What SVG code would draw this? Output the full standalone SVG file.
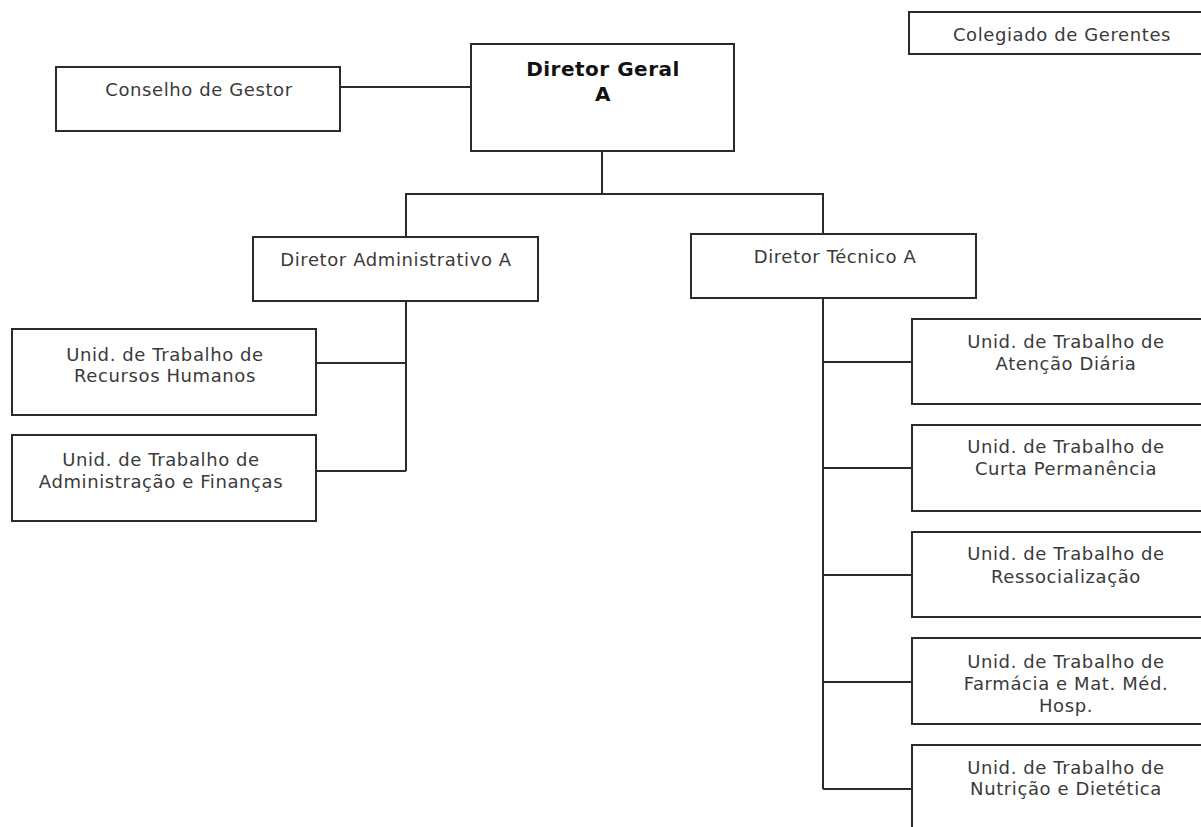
<svg xmlns="http://www.w3.org/2000/svg" width="1201" height="827" viewBox="0 0 1201 827">
  <style>
    .box { fill: #ffffff; stroke: #2b2b2b; stroke-width: 2; }
    .link { fill: none; stroke: #2b2b2b; stroke-width: 2; }
    .lbl { font-family: "DejaVu Sans", Verdana, sans-serif; font-size: 18px; letter-spacing: 0.6px; fill: #3a3a3a; text-anchor: middle; }
    .head { font-family: "DejaVu Sans", Verdana, sans-serif; font-size: 20px; font-weight: bold; letter-spacing: 0.5px; fill: #111111; text-anchor: middle; }
  </style>
  <rect width="1201" height="827" fill="#ffffff"/>

  <!-- connectors -->
  <g id="connectors">
    <line class="link" x1="340" y1="87" x2="471" y2="87"/>
    <line class="link" x1="602" y1="151" x2="602" y2="194"/>
    <polyline class="link" points="406,237 406,194 823,194 823,234"/>
    <polyline class="link" points="406,301 406,471"/>
    <line class="link" x1="316" y1="363" x2="406" y2="363"/>
    <line class="link" x1="316" y1="471" x2="406" y2="471"/>
    <polyline class="link" points="823,298 823,789"/>
    <line class="link" x1="823" y1="362" x2="912" y2="362"/>
    <line class="link" x1="823" y1="468" x2="912" y2="468"/>
    <line class="link" x1="823" y1="575" x2="912" y2="575"/>
    <line class="link" x1="823" y1="682" x2="912" y2="682"/>
    <line class="link" x1="823" y1="789" x2="912" y2="789"/>
  </g>

  <g id="colegiado">
    <rect class="box" x="909" y="12" width="310" height="42"/>
    <text class="lbl" x="1062" y="41">Colegiado de Gerentes</text>
  </g>

  <g id="conselho">
    <rect class="box" x="56" y="67" width="284" height="64"/>
    <text class="lbl" x="199" y="96">Conselho de Gestor</text>
  </g>

  <g id="diretor-geral">
    <rect class="box" x="471" y="44" width="263" height="107"/>
    <text class="head" x="603" y="76">Diretor Geral</text>
    <text class="head" x="603" y="101">A</text>
  </g>

  <g id="diretor-administrativo">
    <rect class="box" x="253" y="237" width="285" height="64"/>
    <text class="lbl" x="396" y="266">Diretor Administrativo A</text>
  </g>

  <g id="diretor-tecnico">
    <rect class="box" x="691" y="234" width="285" height="64"/>
    <text class="lbl" x="835" y="263">Diretor Técnico A</text>
  </g>

  <g id="ut-recursos-humanos">
    <rect class="box" x="12" y="329" width="304" height="86"/>
    <text class="lbl" x="165" y="361">Unid. de Trabalho de</text>
    <text class="lbl" x="165" y="382">Recursos Humanos</text>
  </g>

  <g id="ut-administracao-financas">
    <rect class="box" x="12" y="435" width="304" height="86"/>
    <text class="lbl" x="161" y="466">Unid. de Trabalho de</text>
    <text class="lbl" x="161" y="488">Administração e Finanças</text>
  </g>

  <g id="ut-atencao-diaria">
    <rect class="box" x="912" y="319" width="310" height="85"/>
    <text class="lbl" x="1066" y="348">Unid. de Trabalho de</text>
    <text class="lbl" x="1066" y="370">Atenção Diária</text>
  </g>

  <g id="ut-curta-permanencia">
    <rect class="box" x="912" y="425" width="310" height="86"/>
    <text class="lbl" x="1066" y="453">Unid. de Trabalho de</text>
    <text class="lbl" x="1066" y="475">Curta Permanência</text>
  </g>

  <g id="ut-ressocializacao">
    <rect class="box" x="912" y="532" width="310" height="85"/>
    <text class="lbl" x="1066" y="560">Unid. de Trabalho de</text>
    <text class="lbl" x="1066" y="583">Ressocialização</text>
  </g>

  <g id="ut-farmacia">
    <rect class="box" x="912" y="638" width="310" height="86"/>
    <text class="lbl" x="1066" y="668">Unid. de Trabalho de</text>
    <text class="lbl" x="1066" y="690">Farmácia e Mat. Méd.</text>
    <text class="lbl" x="1066" y="712">Hosp.</text>
  </g>

  <g id="ut-nutricao">
    <rect class="box" x="912" y="745" width="310" height="86"/>
    <text class="lbl" x="1066" y="774">Unid. de Trabalho de</text>
    <text class="lbl" x="1066" y="795">Nutrição e Dietética</text>
  </g>
</svg>
